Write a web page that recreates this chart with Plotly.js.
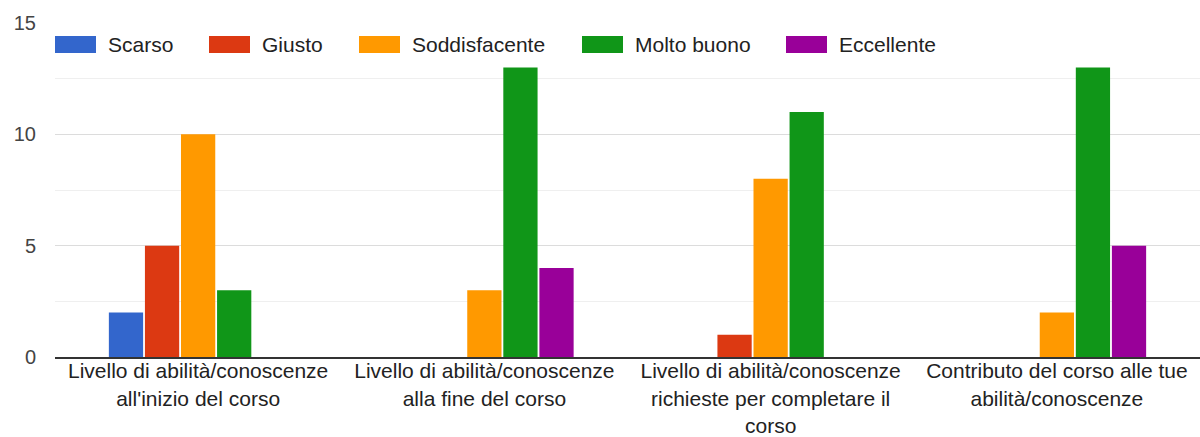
<!DOCTYPE html>
<html><head><meta charset="utf-8">
<script src="https://cdn.plot.ly/plotly-3.0.1.min.js"></script>
<style>html,body{margin:0;padding:0;background:#fff}#chart{width:1200px;height:437px}</style>
</head><body><div id="chart"></div>
<script>
const categories = [
  "Livello di abilità/conoscenze<br>all'inizio del corso",
  "Livello di abilità/conoscenze<br>alla fine del corso",
  "Livello di abilità/conoscenze<br>richieste per completare il<br>corso",
  "Contributo del corso alle tue<br>abilità/conoscenze"
];
const seriesNames = ["Scarso", "Giusto", "Soddisfacente", "Molto buono", "Eccellente"];
const scarso = [2, 0, 0, 0];
const giusto = [5, 0, 1, 0];
const soddisfacente = [10, 3, 8, 2];
const moltoBuono = [3, 13, 11, 13];
const eccellente = [0, 4, 0, 5];
const colors = ["#3366cc", "#dc3912", "#ff9900", "#109618", "#990099"];
const yTicks = [0, 5, 10, 15];

// layout constants (pixels)
const W = 1200, H = 437, ML = 55, MR = 0, MT = 23, MB = 80;
const legendSwatchLeft = [55, 209, 359, 582, 786];
const PW = W - ML - MR, PH = H - MT - MB;
const px2x = p => (p - ML) / PW;
const py2y = p => (H - MB - p) / PH;

const values = [scarso, giusto, soddisfacente, moltoBuono, eccellente];
const traces = values.map((v, i) => ({
  type: 'bar', name: seriesNames[i], x: categories, y: v,
  marker: {color: colors[i]}, hoverinfo: 'x+y+name'
}));

const shapes = [], annotations = [];
seriesNames.forEach((n, i) => {
  const l = legendSwatchLeft[i];
  shapes.push({type: 'rect', xref: 'paper', yref: 'paper',
    x0: px2x(l), x1: px2x(l + 41), y0: py2y(53), y1: py2y(36),
    fillcolor: colors[i], line: {width: 0}});
  annotations.push({xref: 'paper', yref: 'paper', x: px2x(l + 51), y: py2y(44.5),
    xanchor: 'left', yanchor: 'middle', text: n, showarrow: false,
    font: {size: 21, color: '#222'}});
});

const layout = {
  width: W, height: H,
  margin: {l: ML, r: MR, t: MT, b: MB},
  paper_bgcolor: '#fff', plot_bgcolor: '#fff',
  font: {family: '"Liberation Sans", Arial, sans-serif', size: 21, color: '#222'},
  barmode: 'group', bargap: 0.37, bargroupgap: 0.05,
  showlegend: false,
  shapes: shapes, annotations: annotations,
  xaxis: {showgrid: false, showline: true, linecolor: '#333', linewidth: 2,
          ticks: '', tickfont: {size: 21, color: '#222'}, ticklabelstandoff: -6, automargin: false},
  yaxis: {range: [0, 15], tickvals: yTicks, showgrid: true, gridcolor: '#dcdcdc', gridwidth: 1,
          zeroline: false, ticks: '', tickfont: {size: 20, color: '#444'}, ticklabelstandoff: 18,
          minor: {dtick: 2.5, showgrid: true, gridcolor: '#efefef', gridwidth: 1},
          automargin: false, fixedrange: true}
};
Plotly.newPlot('chart', traces, layout, {displayModeBar: false, staticPlot: true});
</script></body></html>
